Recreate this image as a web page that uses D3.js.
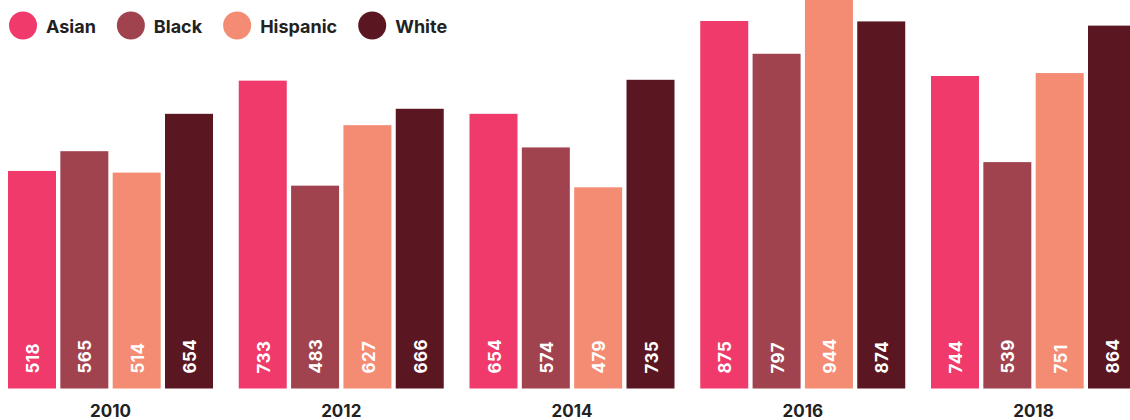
<!DOCTYPE html>
<html>
<head>
<meta charset="utf-8">
<script src="https://cdn.jsdelivr.net/npm/d3@7"></script>
<style>
  html, body { margin: 0; padding: 0; background: #fff; overflow: hidden; }
  svg { display: block; font-family: "Inter", "Open Sans", sans-serif; }
</style>
</head>
<body>
<svg id="chart" width="1130" height="420"></svg>
<script>
// Years shown along the bottom
const years = ["2010", "2012", "2014", "2016", "2018"];
// Groups in the legend and within each year
const groups = ["Asian", "Black", "Hispanic", "White"];
// Values per group, one per year
const asian    = [518, 733, 654, 875, 744];
const black    = [565, 483, 574, 797, 539];
const hispanic = [514, 627, 479, 944, 751];
const white    = [654, 666, 735, 874, 864];
const colors   = ["#EF3A6B", "#A0434E", "#F48B73", "#5A1721"];

const seriesValues = [asian, black, hispanic, white];
const rows = years.map((yr, i) => ({
  year: yr,
  values: groups.map((g, j) => ({ group: g, value: seriesValues[j][i] }))
}));

const svg = d3.select("#chart");
const baseY = 388.5;

const x0 = d3.scaleBand().domain(years).range([8, 1136]).paddingInner(0.1116).paddingOuter(0);
const x1 = d3.scaleBand().domain(groups).range([0, x0.bandwidth()]).paddingInner(0.083).paddingOuter(0);
const y = d3.scaleLinear().domain([0, 925]).range([baseY, 0]);
const color = d3.scaleOrdinal().domain(groups).range(colors);

const yearG = svg.append("g").selectAll("g").data(rows).join("g")
  .attr("transform", d => `translate(${x0(d.year)},0)`);

yearG.selectAll("rect").data(d => d.values).join("rect")
  .attr("x", d => x1(d.group))
  .attr("y", d => y(d.value))
  .attr("width", x1.bandwidth())
  .attr("height", d => baseY - y(d.value))
  .attr("fill", d => color(d.group));

yearG.selectAll("text.val").data(d => d.values).join("text")
  .attr("class", "val")
  .attr("transform", d => `translate(${x1(d.group) + x1.bandwidth() / 2 + 1},${baseY - 15}) rotate(-90)`)
  .attr("dy", "0.36em")
  .attr("fill", "#fff")
  .style("font-size", "17px")
  .style("font-weight", 700)
  .style("letter-spacing", "0.4px")
  .text(d => d.value);

// Year labels
svg.append("g").selectAll("text").data(years).join("text")
  .attr("x", d => x0(d) + x0.bandwidth() / 2)
  .attr("y", 417)
  .attr("text-anchor", "middle")
  .attr("fill", "#222")
  .style("font-size", "17px")
  .style("font-weight", 700)
  .text(d => d);

// Legend
const legend = svg.append("g");
let lx = 9;
groups.forEach(g => {
  const item = legend.append("g").attr("transform", `translate(${lx},0)`);
  item.append("circle").attr("cx", 14).attr("cy", 25.5).attr("r", 14).attr("fill", color(g));
  const t = item.append("text")
    .attr("x", 37).attr("y", 33)
    .attr("fill", "#222")
    .style("font-size", "18px")
    .style("font-weight", 700)
    .text(g);
  lx += 37 + t.node().getComputedTextLength() + 21;
});
</script>
</body>
</html>
